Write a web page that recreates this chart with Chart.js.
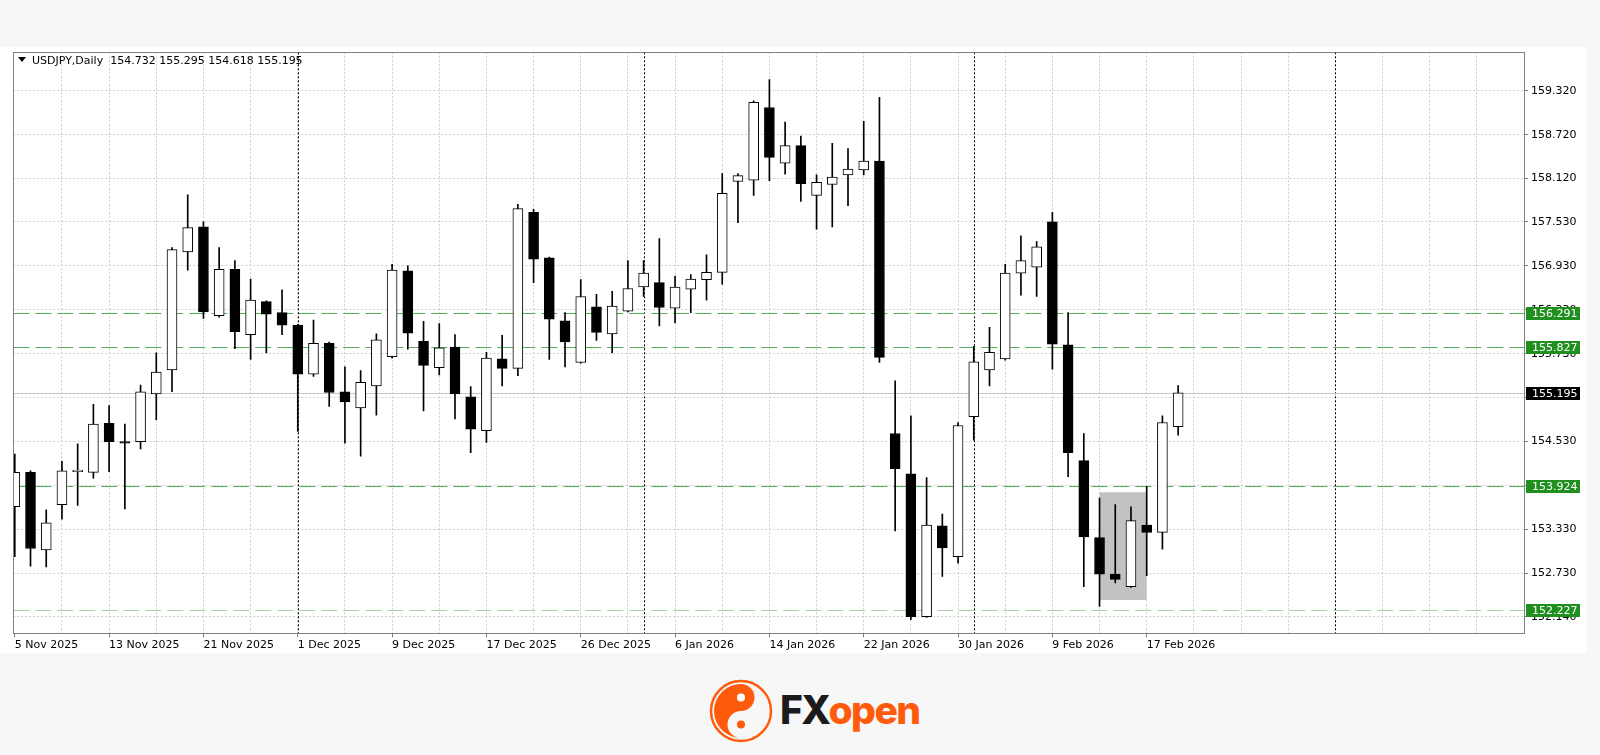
<!DOCTYPE html>
<html>
<head>
<meta charset="utf-8">
<script src="https://cdn.jsdelivr.net/npm/chart.js@4.4.1/dist/chart.umd.min.js"></script>
<style>
  html, body { margin: 0; padding: 0; background: #f7f7f7; }
  body { width: 1600px; height: 755px; position: relative; overflow: hidden; font-family: "DejaVu Sans", sans-serif; }
  #panel { position: absolute; left: 0; top: 47px; width: 1587px; height: 606px; background: #fff; }
  #wrap { position: absolute; left: 0; top: 30px; width: 1600px; height: 640px; }
  #title { position: absolute; left: 18px; top: 54px; font-size: 11px; line-height: 13px; color: #000; white-space: pre; }
  #title .tri { display: inline-block; width: 0; height: 0; border-left: 4px solid transparent; border-right: 4px solid transparent; border-top: 5px solid #000; margin-right: 6px; vertical-align: 2px; }
  #logo { position: absolute; left: 708px; top: 678px; height: 66px; }
  #brand { position: absolute; left: 780px; top: 688px; font-family: Inter, "Liberation Sans", sans-serif; font-weight: 800; font-size: 39px; line-height: 44px; letter-spacing: -1.5px; }
  #brand .fx { color: #1b1b1b; }
  #brand .op { color: #ff5b0d; }
</style>
</head>
<body>
<div id="panel"></div>
<div id="wrap"><canvas id="chart"></canvas></div>
<div id="title"><span class="tri"></span>USDJPY,Daily  154.732 155.295 154.618 155.195</div>
<svg id="logo" width="66" height="66" viewBox="0 0 66 66">
  <circle cx="33" cy="33" r="30" fill="none" stroke="#ff5b0d" stroke-width="2.5"/>
  <path d="M33,6 a13.5,13.5 0 0,1 0,27 a13.5,13.5 0 0,0 0,27 a27,27 0 0,1 0,-54z" fill="#ff5b0d"/>
  <circle cx="33" cy="19.5" r="4" fill="#fff"/>
  <circle cx="33" cy="46.5" r="4" fill="#ff5b0d"/>
  <path d="M14,12 l6,5 l-2,3z M46,12 l-4,7 l-2,-2z" fill="#ff5b0d"/>
</svg>
<div id="brand"><span class="fx">FX</span><span class="op">open</span></div>
<script>
// daily candles, bar 0 = 5 Nov 2025 ... bar 74 = 19 Feb 2026
const opens = [153.64, 154.11, 153.05, 153.67, 154.12, 154.11, 154.78, 154.53, 154.53, 155.18,
  155.51, 157.12, 157.46, 156.25, 156.88, 155.99, 156.44, 156.29, 156.12, 155.45,
  155.87, 155.21, 154.99, 155.29, 155.69, 156.86, 155.90, 155.54, 155.82, 155.14,
  154.68, 155.66, 155.53, 157.66, 157.04, 156.18, 155.61, 156.37, 156.00, 156.31,
  156.64, 156.70, 156.35, 156.61, 156.74, 156.84, 158.08, 158.10, 159.09, 158.33,
  158.57, 157.89, 158.04, 158.17, 158.24, 158.36, 154.64, 154.09, 152.14, 153.38,
  152.96, 154.87, 155.51, 155.66, 156.83, 156.91, 157.53, 155.85, 154.27, 153.22,
  152.72, 152.55, 153.39, 153.29, 154.732];
const highs = [154.36, 154.13, 153.60, 154.26, 154.50, 155.04, 155.02, 154.77, 155.30, 155.74,
  157.18, 157.90, 157.53, 157.18, 157.00, 156.75, 156.45, 156.60, 156.13, 156.19,
  155.89, 155.55, 155.50, 156.00, 156.95, 156.93, 156.17, 156.14, 155.99, 155.28,
  155.75, 155.98, 157.77, 157.70, 157.05, 156.29, 156.74, 156.54, 156.58, 157.00,
  157.00, 157.30, 156.79, 156.81, 157.08, 158.19, 158.19, 159.18, 159.47, 158.89,
  158.70, 158.17, 158.60, 158.53, 158.90, 159.23, 155.36, 154.88, 154.04, 153.54,
  154.79, 155.83, 156.09, 156.95, 157.34, 157.26, 157.66, 156.29, 154.64, 153.76,
  153.67, 153.64, 153.92, 154.88, 155.295];
const lows = [152.96, 152.83, 152.82, 153.47, 153.66, 154.03, 154.12, 153.61, 154.43, 154.83,
  155.21, 156.87, 156.21, 156.23, 155.80, 155.65, 155.74, 155.99, 154.67, 155.42,
  155.01, 154.51, 154.33, 154.89, 155.67, 155.79, 154.95, 155.44, 154.84, 154.38,
  154.52, 155.29, 155.43, 156.70, 155.65, 155.55, 155.60, 155.91, 155.74, 156.30,
  156.51, 156.11, 156.15, 156.29, 156.46, 156.68, 157.52, 157.89, 158.09, 158.18,
  157.81, 157.43, 157.46, 157.75, 158.17, 155.61, 153.31, 152.10, 152.13, 152.69,
  152.87, 154.55, 155.29, 155.64, 156.53, 156.51, 155.52, 154.05, 152.55, 152.28,
  152.60, 152.54, 152.70, 153.06, 154.618];
const closes = [154.11, 153.07, 153.42, 154.13, 154.14, 154.77, 154.53, 154.51, 155.21, 155.48,
  157.15, 157.45, 156.30, 156.88, 156.03, 156.46, 156.27, 156.12, 155.45, 155.87,
  155.20, 155.07, 155.34, 155.92, 156.87, 156.01, 155.57, 155.81, 155.18, 154.70,
  155.67, 155.53, 157.71, 157.02, 156.20, 155.89, 156.51, 156.02, 156.38, 156.62,
  156.83, 156.36, 156.64, 156.75, 156.84, 157.92, 158.16, 159.16, 158.41, 158.57,
  158.05, 158.07, 158.14, 158.25, 158.36, 155.68, 154.16, 152.14, 153.39, 153.08,
  154.75, 155.62, 155.75, 156.83, 157.00, 157.19, 155.86, 154.38, 153.23, 152.72,
  152.65, 153.45, 153.29, 154.79, 155.195];

// date label every 6 bars
const dateLabels = ['5 Nov 2025', '13 Nov 2025', '21 Nov 2025', '1 Dec 2025', '9 Dec 2025',
  '17 Dec 2025', '26 Dec 2025', '6 Jan 2026', '14 Jan 2026', '22 Jan 2026',
  '30 Jan 2026', '9 Feb 2026', '17 Feb 2026'];
const labelStep = 6;
const gridStep = 3;
const monthStarts = [18, 40, 61, 84];

const priceTicks = [152.140, 152.730, 153.330, 153.930, 154.530, 155.130, 155.730,
  156.330, 156.930, 157.530, 158.120, 158.720, 159.320];
const levels = [156.291, 155.827, 153.924, 152.227];
const lastPrice = 155.195;
// grey box: from bar, to bar, low, high
const zone = [69, 72, 152.368, 153.838];

const levelColors = ['#52b152', '#52b152', '#52b152', '#a5d3a5'];

const bodies = opens.map((o, i) => ({ x: i, y: [Math.min(o, closes[i]), Math.max(o, closes[i])] }));
const wicks = highs.map((h, i) => ({ x: i, y: [lows[i], h] }));
const bodyColors = opens.map((o, i) => closes[i] >= o ? '#ffffff' : '#000000');

const overlay = {
  id: 'overlay',
  beforeDatasetsDraw(chart) {
    const { ctx, chartArea: a, scales: { x, y } } = chart;
    ctx.save();
    ctx.beginPath();
    ctx.rect(a.left, a.top, a.right - a.left, a.bottom - a.top);
    ctx.clip();

    const zx0 = x.getPixelForValue(zone[0]), zx1 = x.getPixelForValue(zone[1]);
    const zy0 = y.getPixelForValue(zone[3]), zy1 = y.getPixelForValue(zone[2]);
    ctx.fillStyle = '#c2c2c2';
    ctx.fillRect(zx0, zy0, zx1 - zx0, zy1 - zy0);

    ctx.lineWidth = 1;
    ctx.strokeStyle = '#000';
    ctx.setLineDash([2, 2]);
    monthStarts.forEach(i => {
      const px = Math.round(x.getPixelForValue(i)) + 0.5;
      ctx.beginPath(); ctx.moveTo(px, a.top); ctx.lineTo(px, a.bottom); ctx.stroke();
    });

    ctx.setLineDash([]);
    ctx.strokeStyle = '#c8c8c8';
    let py = Math.round(y.getPixelForValue(lastPrice)) + 0.5;
    ctx.beginPath(); ctx.moveTo(a.left, py); ctx.lineTo(a.right, py); ctx.stroke();

    ctx.setLineDash([16, 6]);
    levels.forEach((v, k) => {
      ctx.strokeStyle = levelColors[k];
      const ly = Math.round(y.getPixelForValue(v)) + 0.5;
      ctx.beginPath(); ctx.moveTo(a.left, ly); ctx.lineTo(a.right, ly); ctx.stroke();
    });
    ctx.restore();
  },
  afterDraw(chart) {
    const { ctx, chartArea: a, scales: { y } } = chart;
    ctx.save();
    ctx.strokeStyle = '#808080';
    ctx.lineWidth = 1;
    ctx.strokeRect(Math.round(a.left) + 0.5, Math.round(a.top) + 0.5,
      Math.round(a.right - a.left), Math.round(a.bottom - a.top));

    ctx.font = '11px "DejaVu Sans"';
    ctx.textBaseline = 'middle';
    const tag = (v, bg) => {
      const ty = Math.round(y.getPixelForValue(v));
      ctx.fillStyle = bg;
      ctx.fillRect(a.right + 2, ty - 6, 54, 13);
      ctx.fillStyle = '#ffffff';
      ctx.fillText(v.toFixed(3), a.right + 8, ty + 1);
    };
    levels.forEach(v => tag(v, '#1f8f1f'));
    tag(lastPrice, '#000000');
    ctx.restore();
  }
};

const chart = new Chart(document.getElementById('chart'), {
  type: 'bar',
  data: {
    datasets: [{
      label: 'body',
      data: bodies,
      backgroundColor: bodyColors,
      borderColor: '#000',
      borderWidth: 1,
      borderSkipped: false,
      barThickness: 10,
      grouped: false,
      order: 0
    }, {
      label: 'wick',
      data: wicks,
      backgroundColor: '#000',
      borderWidth: 0,
      barThickness: 1,
      grouped: false,
      order: 1
    }]
  },
  options: {
    responsive: true,
    maintainAspectRatio: false,
    animation: false,
    events: [],
    layout: { padding: { left: 13.3, top: 22.3, right: 16, bottom: 16.7 } },
    plugins: { legend: { display: false }, tooltip: { enabled: false } },
    scales: {
      x: {
        type: 'linear',
        offset: false,
        min: -0.095,
        max: 96,
        afterFit: s => { s.height = 20; },
        afterBuildTicks: s => {
          const t = [];
          for (let v = 0; v <= 96; v += gridStep) t.push({ value: v });
          s.ticks = t;
        },
        grid: {
          offset: false,
          color: c => (c.tick && c.tick.value > 0) ? '#cfcfcf' : 'rgba(0,0,0,0)',
          tickColor: c => (c.tick && c.tick.value % labelStep === 0 && c.tick.value / labelStep < dateLabels.length) ? '#808080' : 'rgba(0,0,0,0)',
          tickLength: 4,
          tickBorderDash: []
        },
        border: { display: false, dash: [2, 2] },
        ticks: {
          autoSkip: false,
          maxRotation: 0,
          align: 'start',
          padding: 1,
          color: '#000',
          font: { family: 'DejaVu Sans', size: 11 },
          callback: v => (v % labelStep === 0 && dateLabels[v / labelStep]) ? dateLabels[v / labelStep] : ''
        }
      },
      y: {
        position: 'right',
        min: 151.913,
        max: 159.844,
        afterFit: s => { s.width = 60; },
        afterBuildTicks: s => { s.ticks = priceTicks.map(v => ({ value: v })); },
        grid: {
          color: '#cfcfcf',
          tickColor: '#808080',
          tickLength: 4,
          tickBorderDash: []
        },
        border: { display: false, dash: [2, 2] },
        ticks: {
          padding: 3,
          color: '#000',
          font: { family: 'DejaVu Sans', size: 11 },
          callback: v => v.toFixed(3)
        }
      }
    }
  },
  plugins: [overlay]
});
</script>
</body>
</html>
